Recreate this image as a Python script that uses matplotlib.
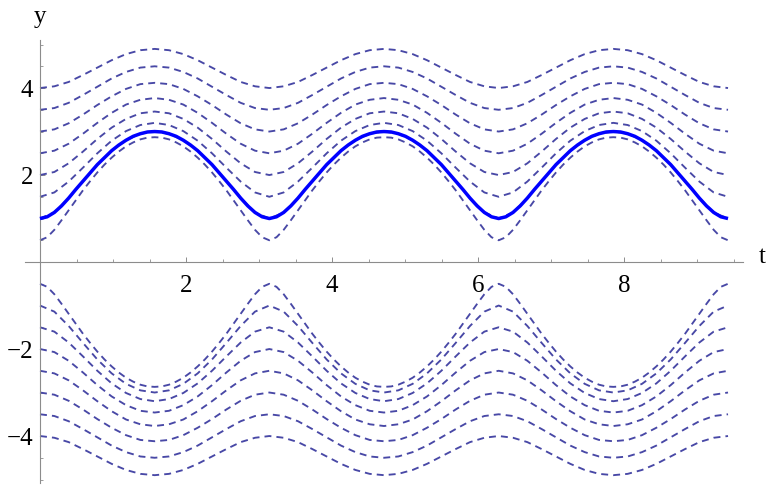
import numpy as np
import matplotlib
matplotlib.use('Agg')
import matplotlib.pyplot as plt
from matplotlib.ticker import MultipleLocator, FixedLocator

# every curve is symmetric about t = pi/2 and repeats with period pi.
upper = {
    0.5: [0.50, 0.57, 0.74, 0.96, 1.19, 1.42, 1.65, 1.86, 2.06,
          2.24, 2.40, 2.54, 2.66, 2.75, 2.82, 2.86, 2.87],
    1.0: [1.00, 1.14, 1.47, 1.86, 2.24, 2.56, 2.80, 2.95, 3.00],
    1.5: [1.50, 1.60, 1.85, 2.17, 2.50, 2.79, 3.01, 3.15, 3.20],
    2.0: [2.00, 2.07, 2.27, 2.54, 2.83, 3.09, 3.29, 3.42, 3.46],
    2.5: [2.50, 2.56, 2.72, 2.95, 3.20, 3.43, 3.62, 3.73, 3.77],
    3.0: [3.00, 3.05, 3.19, 3.39, 3.61, 3.81, 3.98, 4.09, 4.12],
    3.5: [3.50, 3.54, 3.66, 3.84, 4.03, 4.22, 4.37, 4.47, 4.50],
    4.0: [4.00, 4.04, 4.14, 4.30, 4.47, 4.64, 4.78, 4.87, 4.90],
}
lower = {
    -0.5: [-0.50, -0.57, -0.74, -0.96, -1.19, -1.42, -1.65, -1.86, -2.06,
           -2.24, -2.40, -2.54, -2.66, -2.75, -2.82, -2.86, -2.87],
    -1.0: [-1.00, -1.14, -1.47, -1.86, -2.24, -2.56, -2.80, -2.95, -3.00],
    -1.5: [-1.50, -1.60, -1.85, -2.17, -2.50, -2.79, -3.01, -3.15, -3.20],
    -2.0: [-2.00, -2.07, -2.27, -2.54, -2.83, -3.09, -3.29, -3.42, -3.46],
    -2.5: [-2.50, -2.56, -2.72, -2.95, -3.20, -3.43, -3.62, -3.73, -3.77],
    -3.0: [-3.00, -3.05, -3.19, -3.39, -3.61, -3.81, -3.98, -4.09, -4.12],
    -3.5: [-3.50, -3.54, -3.66, -3.84, -4.03, -4.22, -4.37, -4.47, -4.50],
    -4.0: [-4.00, -4.04, -4.14, -4.30, -4.47, -4.64, -4.78, -4.87, -4.90],
}
# highlighted solution, y(0) = 1
solid = [1.00, 1.04, 1.14, 1.29, 1.47, 1.67, 1.86, 2.05, 2.24,
         2.40, 2.56, 2.69, 2.80, 2.89, 2.95, 2.99, 3.00]

n_periods = 3
x_ticks = [2, 4, 6, 8]
y_ticks = [-4, -2, 2, 4]


def full_curve(q):
    q = np.asarray(q, dtype=float)
    half = np.concatenate([q, q[-2::-1]])
    vals = np.concatenate([half[:-1]] * n_periods + [half[-1:]])
    dt = (np.pi / 2) / (len(q) - 1)
    return np.arange(len(vals)) * dt, vals


plt.rcParams['font.family'] = ['Liberation Serif', 'DejaVu Serif']
fig = plt.figure(figsize=(7.68, 4.86), dpi=100)
ax = fig.add_axes([25.4 / 768, 3 / 486, 717.6 / 768, 442.8 / 486])

dash_col = '#4848a6'
for y0, q in list(upper.items()) + list(lower.items()):
    t, y = full_curve(q)
    ax.plot(t, y, color=dash_col, lw=1.35, linestyle=(0, (3.7, 2.7)), zorder=2)

t, y = full_curve(solid)
ax.plot(t, y, color='#0000ff', lw=2.5, zorder=3, solid_capstyle='butt')

ax.set_xlim(-0.2, 9.63)
ax.set_ylim(-5.08, 5.1)

for side in ['top', 'right']:
    ax.spines[side].set_visible(False)
for side in ['left', 'bottom']:
    ax.spines[side].set_position(('data', 0))
    ax.spines[side].set_color('#8c8c8c')
    ax.spines[side].set_linewidth(0.8)

ax.xaxis.set_major_locator(FixedLocator(x_ticks))
ax.yaxis.set_major_locator(FixedLocator(y_ticks))
ax.xaxis.set_minor_locator(MultipleLocator(0.5))
ax.yaxis.set_minor_locator(MultipleLocator(0.5))
ax.tick_params(which='major', direction='in', length=3.8, width=0.7,
               color='#8c8c8c', labelsize=18)
ax.tick_params(which='minor', direction='in', length=2.2, width=0.6,
               color='#8c8c8c')
ax.tick_params(axis='x', which='major', pad=9)
ax.tick_params(axis='y', which='major', pad=5)

fig.text(40 / 768, 1 - 17 / 486, 'y', ha='center', va='center', fontsize=18)
fig.text(762 / 768, 1 - 257 / 486, 't', ha='center', va='center', fontsize=18)

fig.savefig('out.png', dpi=100)
